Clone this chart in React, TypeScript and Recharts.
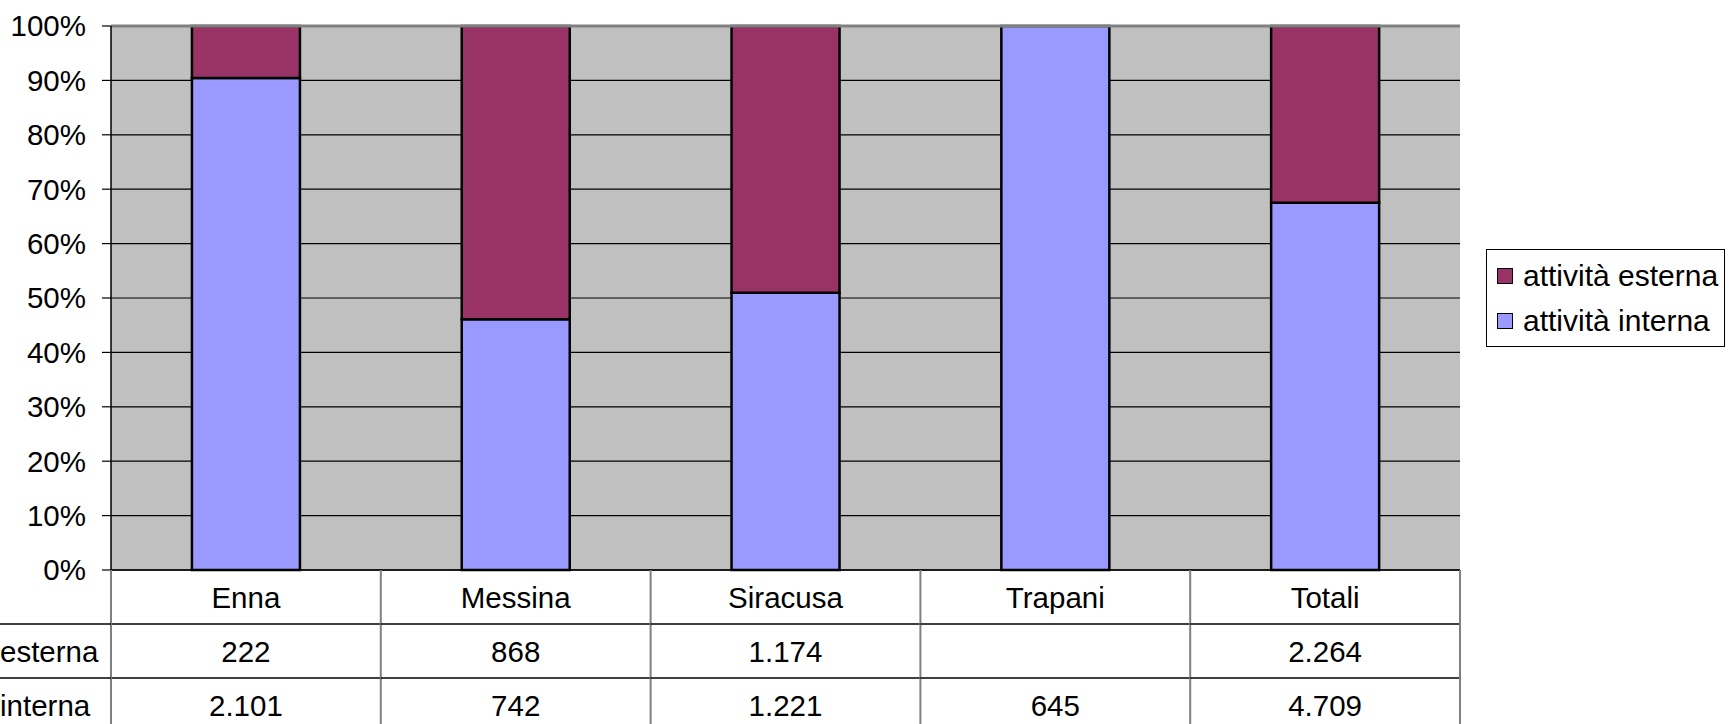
import React from "react";
import { BarChart, Bar, XAxis, YAxis, CartesianGrid, Legend, ReferenceLine } from "recharts";

const categories = ["Enna", "Messina", "Siracusa", "Trapani", "Totali"];
const esterna: (number | null)[] = [222, 868, 1174, null, 2264];
const interna: (number | null)[] = [2101, 742, 1221, 645, 4709];
const seriesNames = ["attività esterna", "attività interna"];
const rowLabels = ["esterna", "interna"];
const yTicks = [0, 0.1, 0.2, 0.3, 0.4, 0.5, 0.6, 0.7, 0.8, 0.9, 1];

const COLOR_EST = "#993366";
const COLOR_INT = "#9999FF";
const FONT = "'Liberation Sans', Arial, sans-serif";
const FS = 29.5;
const LFS = 30;

const data = categories.map((c, i) => ({
  name: c,
  interna: interna[i] ?? 0,
  esterna: esterna[i] ?? 0,
}));

function fmt(v: number | null): string {
  if (v === null || v === undefined) return "";
  const s = String(Math.round(v));
  return s.replace(/\B(?=(\d{3})+(?!\d))/g, ".");
}

const W = 1729;
const H = 724;

const TableTick = (props: any) => {
  const { x, y, payload } = props;
  const idx = payload.index;
  const off = payload.offset || 135;
  const rowH = 54;
  const left = x - off;
  const right = x + off;
  return (
    <g>
      <text x={x} y={y + rowH / 2} textAnchor="middle" dominantBaseline="central" fontSize={FS} fontFamily={FONT} fill="#000">
        {payload.value}
      </text>
      <text x={x} y={y + rowH * 1.5} textAnchor="middle" dominantBaseline="central" fontSize={FS} fontFamily={FONT} fill="#000">
        {fmt(esterna[idx])}
      </text>
      <text x={x} y={y + rowH * 2.5} textAnchor="middle" dominantBaseline="central" fontSize={FS} fontFamily={FONT} fill="#000">
        {fmt(interna[idx])}
      </text>
      <line x1={left} x2={right} y1={y + rowH} y2={y + rowH} stroke="#000" strokeWidth={1.5} />
      <line x1={left} x2={right} y1={y + rowH * 2} y2={y + rowH * 2} stroke="#000" strokeWidth={1.5} />
      <line x1={right} x2={right} y1={y} y2={H} stroke="#808080" strokeWidth={2} />
      {idx === 0 && (
        <g>
          <line x1={left} x2={left} y1={y} y2={H} stroke="#808080" strokeWidth={2} />
          <line x1={0} x2={left} y1={y + rowH} y2={y + rowH} stroke="#000" strokeWidth={1.5} />
          <line x1={0} x2={left} y1={y + rowH * 2} y2={y + rowH * 2} stroke="#000" strokeWidth={1.5} />
          <text x={0} y={y + rowH * 1.5} textAnchor="start" dominantBaseline="central" fontSize={FS} fontFamily={FONT} fill="#000">
            {rowLabels[0]}
          </text>
          <text x={0} y={y + rowH * 2.5} textAnchor="start" dominantBaseline="central" fontSize={FS} fontFamily={FONT} fill="#000">
            {rowLabels[1]}
          </text>
        </g>
      )}
    </g>
  );
};

const LegendContent = (props: any) => {
  const items = [...(props.payload || [])].sort((a: any, b: any) =>
    seriesNames.indexOf(a.value) - seriesNames.indexOf(b.value)
  );
  return (
    <div
      style={{
        width: 239,
        height: 98,
        boxSizing: "border-box",
        border: "1.5px solid #000",
        background: "#fff",
        display: "flex",
        flexDirection: "column",
        justifyContent: "center",
        paddingLeft: 10,
        gap: 10,
      }}
    >
      {items.map((it: any) => (
        <div key={it.value} style={{ display: "flex", alignItems: "center", height: 35 }}>
          <span
            style={{
              display: "inline-block",
              width: 16,
              height: 16,
              boxSizing: "border-box",
              background: it.color,
              border: "1.5px solid #000",
              marginRight: 10,
              flexShrink: 0,
            }}
          />
          <span style={{ fontFamily: FONT, fontSize: LFS, color: "#000", lineHeight: "35px", whiteSpace: "nowrap" }}>
            {it.value}
          </span>
        </div>
      ))}
    </div>
  );
};

export default function App() {
  return (
    <div style={{ position: "absolute", left: 0, top: 0, width: W, height: H, background: "#fff", overflow: "hidden" }}>
      <BarChart
        width={W}
        height={H}
        data={data}
        stackOffset="expand"
        barCategoryGap="30%"
        margin={{ top: 26, right: 269, bottom: 0, left: 0 }}
      >
        <CartesianGrid vertical={false} stroke="#000" strokeWidth={1.2} fill="#C0C0C0" fillOpacity={1} />
        <XAxis
          dataKey="name"
          height={154}
          tickLine={false}
          tickSize={0}
          tickMargin={0}
          axisLine={{ stroke: "#000", strokeWidth: 1.5 }}
          tick={<TableTick />}
          interval={0}
        />
        <YAxis
          width={111}
          domain={[0, 1]}
          ticks={yTicks}
          tickFormatter={(v: number) => `${Math.round(v * 100)}%`}
          tickSize={9}
          tickMargin={16}
          tickLine={{ stroke: "#000", strokeWidth: 1.2 }}
          axisLine={{ stroke: "#000", strokeWidth: 1.5 }}
          tick={{ fontSize: FS, fontFamily: FONT, fill: "#000" }}
          interval={0}
        />
        <YAxis
          yAxisId="right"
          orientation="right"
          width={0}
          domain={[0, 1]}
          tick={false}
          tickLine={false}
          axisLine={{ stroke: "#808080", strokeWidth: 3 }}
        />
        <ReferenceLine y={1} stroke="#808080" strokeWidth={3} ifOverflow="extendDomain" />
        <Bar
          dataKey="interna"
          name={seriesNames[1]}
          stackId="a"
          fill={COLOR_INT}
          stroke="#000"
          strokeWidth={2.5}
          isAnimationActive={false}
        />
        <Bar
          dataKey="esterna"
          name={seriesNames[0]}
          stackId="a"
          fill={COLOR_EST}
          stroke="#000"
          strokeWidth={2.5}
          isAnimationActive={false}
        />
        <Legend
          layout="horizontal"
          align="center"
          verticalAlign="middle"
          content={<LegendContent />}
          wrapperStyle={{ position: "absolute", left: 1486, top: 249, width: 239, height: 98 }}
        />
      </BarChart>
    </div>
  );
}
